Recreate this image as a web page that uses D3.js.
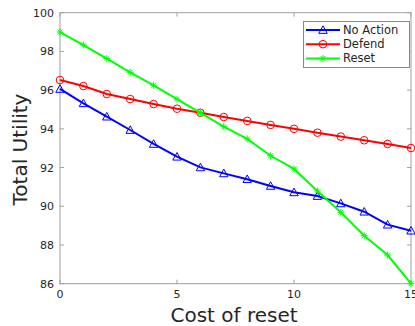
<!DOCTYPE html>
<html>
<head>
<meta charset="utf-8">
<script src="https://cdn.jsdelivr.net/npm/d3@7.9.0/dist/d3.min.js"></script>
<style>
  body { margin: 0; background: #fff; }
  svg { display: block; font-family: "DejaVu Sans", sans-serif; }
</style>
</head>
<body>
<svg width="415" height="326"></svg>
<script>
const costs = d3.range(0, 16);
const noAction = [96.06, 95.32, 94.63, 93.94, 93.22, 92.56, 92.01, 91.7, 91.4, 91.05, 90.72, 90.53, 90.15, 89.72, 89.05, 88.74];
const defend = [96.52, 96.21, 95.8, 95.54, 95.28, 95.04, 94.83, 94.61, 94.41, 94.2, 94.0, 93.8, 93.6, 93.41, 93.22, 93.01];
const reset = [99.0, 98.33, 97.63, 96.92, 96.25, 95.53, 94.83, 94.11, 93.48, 92.61, 91.93, 90.79, 89.69, 88.48, 87.48, 86.0];
const xTicks = [0, 5, 10, 15];
const yTicks = [86, 88, 90, 92, 94, 96, 98, 100];

const series = [
    { name: 'No Action', values: noAction, color: '#0000ff', marker: 'triangle' },
    { name: 'Defend', values: defend, color: '#ff0000', marker: 'circle' },
    { name: 'Reset', values: reset, color: '#00ff00', marker: 'star' }
];

const svg = d3.select('svg');
const plotL = 60, plotR = 411, plotT = 12.7, plotB = 283.7;

const x = d3.scaleLinear().domain([0, 15]).range([plotL, plotR]);
const y = d3.scaleLinear().domain([86, 100]).range([plotB, plotT]);

const axisColor = '#a0a0a0';
const textColor = '#262626';

// box
svg.append('rect')
    .attr('x', plotL).attr('y', plotT)
    .attr('width', plotR - plotL).attr('height', plotB - plotT)
    .attr('fill', 'none').attr('stroke', axisColor).attr('stroke-width', 1);

const tickLen = 4;
xTicks.forEach(t => {
    svg.append('line').attr('x1', x(t)).attr('x2', x(t)).attr('y1', plotB).attr('y2', plotB - tickLen).attr('stroke', axisColor);
    svg.append('line').attr('x1', x(t)).attr('x2', x(t)).attr('y1', plotT).attr('y2', plotT + tickLen).attr('stroke', axisColor);
    svg.append('text').attr('x', x(t)).attr('y', plotB + 14.5)
        .attr('text-anchor', 'middle').attr('font-size', 11).attr('fill', textColor).text(t);
});
yTicks.forEach(t => {
    svg.append('line').attr('x1', plotL).attr('x2', plotL + tickLen).attr('y1', y(t)).attr('y2', y(t)).attr('stroke', axisColor);
    svg.append('line').attr('x1', plotR).attr('x2', plotR - tickLen).attr('y1', y(t)).attr('y2', y(t)).attr('stroke', axisColor);
    svg.append('text').attr('x', plotL - 6).attr('y', y(t) + 4)
        .attr('text-anchor', 'end').attr('font-size', 11).attr('fill', textColor).text(t);
});

svg.append('text').attr('x', 234).attr('y', 321.5)
    .attr('text-anchor', 'middle').attr('font-size', 20).attr('fill', textColor).text('Cost of reset');
svg.append('text').attr('transform', `translate(26.5,149.5) rotate(-90)`)
    .attr('text-anchor', 'middle').attr('font-size', 20).attr('fill', textColor).text('Total Utility');

const line = d3.line().x((d, i) => x(costs[i])).y(d => y(d));

function drawMarker(g, type, cx, cy, color) {
    if (type === 'circle') {
        g.append('circle').attr('cx', cx).attr('cy', cy).attr('r', 3.8)
            .attr('fill', 'none').attr('stroke', color).attr('stroke-width', 1);
    } else if (type === 'triangle') {
        const s = 4.2;
        g.append('path').attr('d', `M${cx},${cy - s}L${cx + s},${cy + s * 0.8}L${cx - s},${cy + s * 0.8}Z`)
            .attr('fill', 'none').attr('stroke', color).attr('stroke-width', 1);
    } else {
        const s = 3.5;
        const p = `M${cx - s},${cy}L${cx + s},${cy}M${cx},${cy - s}L${cx},${cy + s}` +
            `M${cx - s * 0.7},${cy - s * 0.7}L${cx + s * 0.7},${cy + s * 0.7}M${cx - s * 0.7},${cy + s * 0.7}L${cx + s * 0.7},${cy - s * 0.7}`;
        g.append('path').attr('d', p).attr('fill', 'none').attr('stroke', color).attr('stroke-width', 1);
    }
}

const plot = svg.append('g');
series.forEach(s => {
    plot.append('path').datum(s.values).attr('d', line)
        .attr('fill', 'none').attr('stroke', s.color).attr('stroke-width', 2);
    s.values.forEach((v, i) => drawMarker(plot, s.marker, x(costs[i]), y(v), s.color));
});

// legend
const lg = svg.append('g');
lg.append('rect').attr('x', 303.5).attr('y', 21.5).attr('width', 106).attr('height', 46)
    .attr('fill', '#fff').attr('stroke', '#888').attr('stroke-width', 1);
series.forEach((s, i) => {
    const ly = 30 + i * 14.2;
    lg.append('line').attr('x1', 306).attr('x2', 340).attr('y1', ly).attr('y2', ly)
        .attr('stroke', s.color).attr('stroke-width', 2);
    drawMarker(lg, s.marker, 323, ly, s.color);
    lg.append('text').attr('x', 343).attr('y', ly + 4).attr('font-size', 11.5)
        .attr('fill', textColor).text(s.name);
});
</script>
</body>
</html>
